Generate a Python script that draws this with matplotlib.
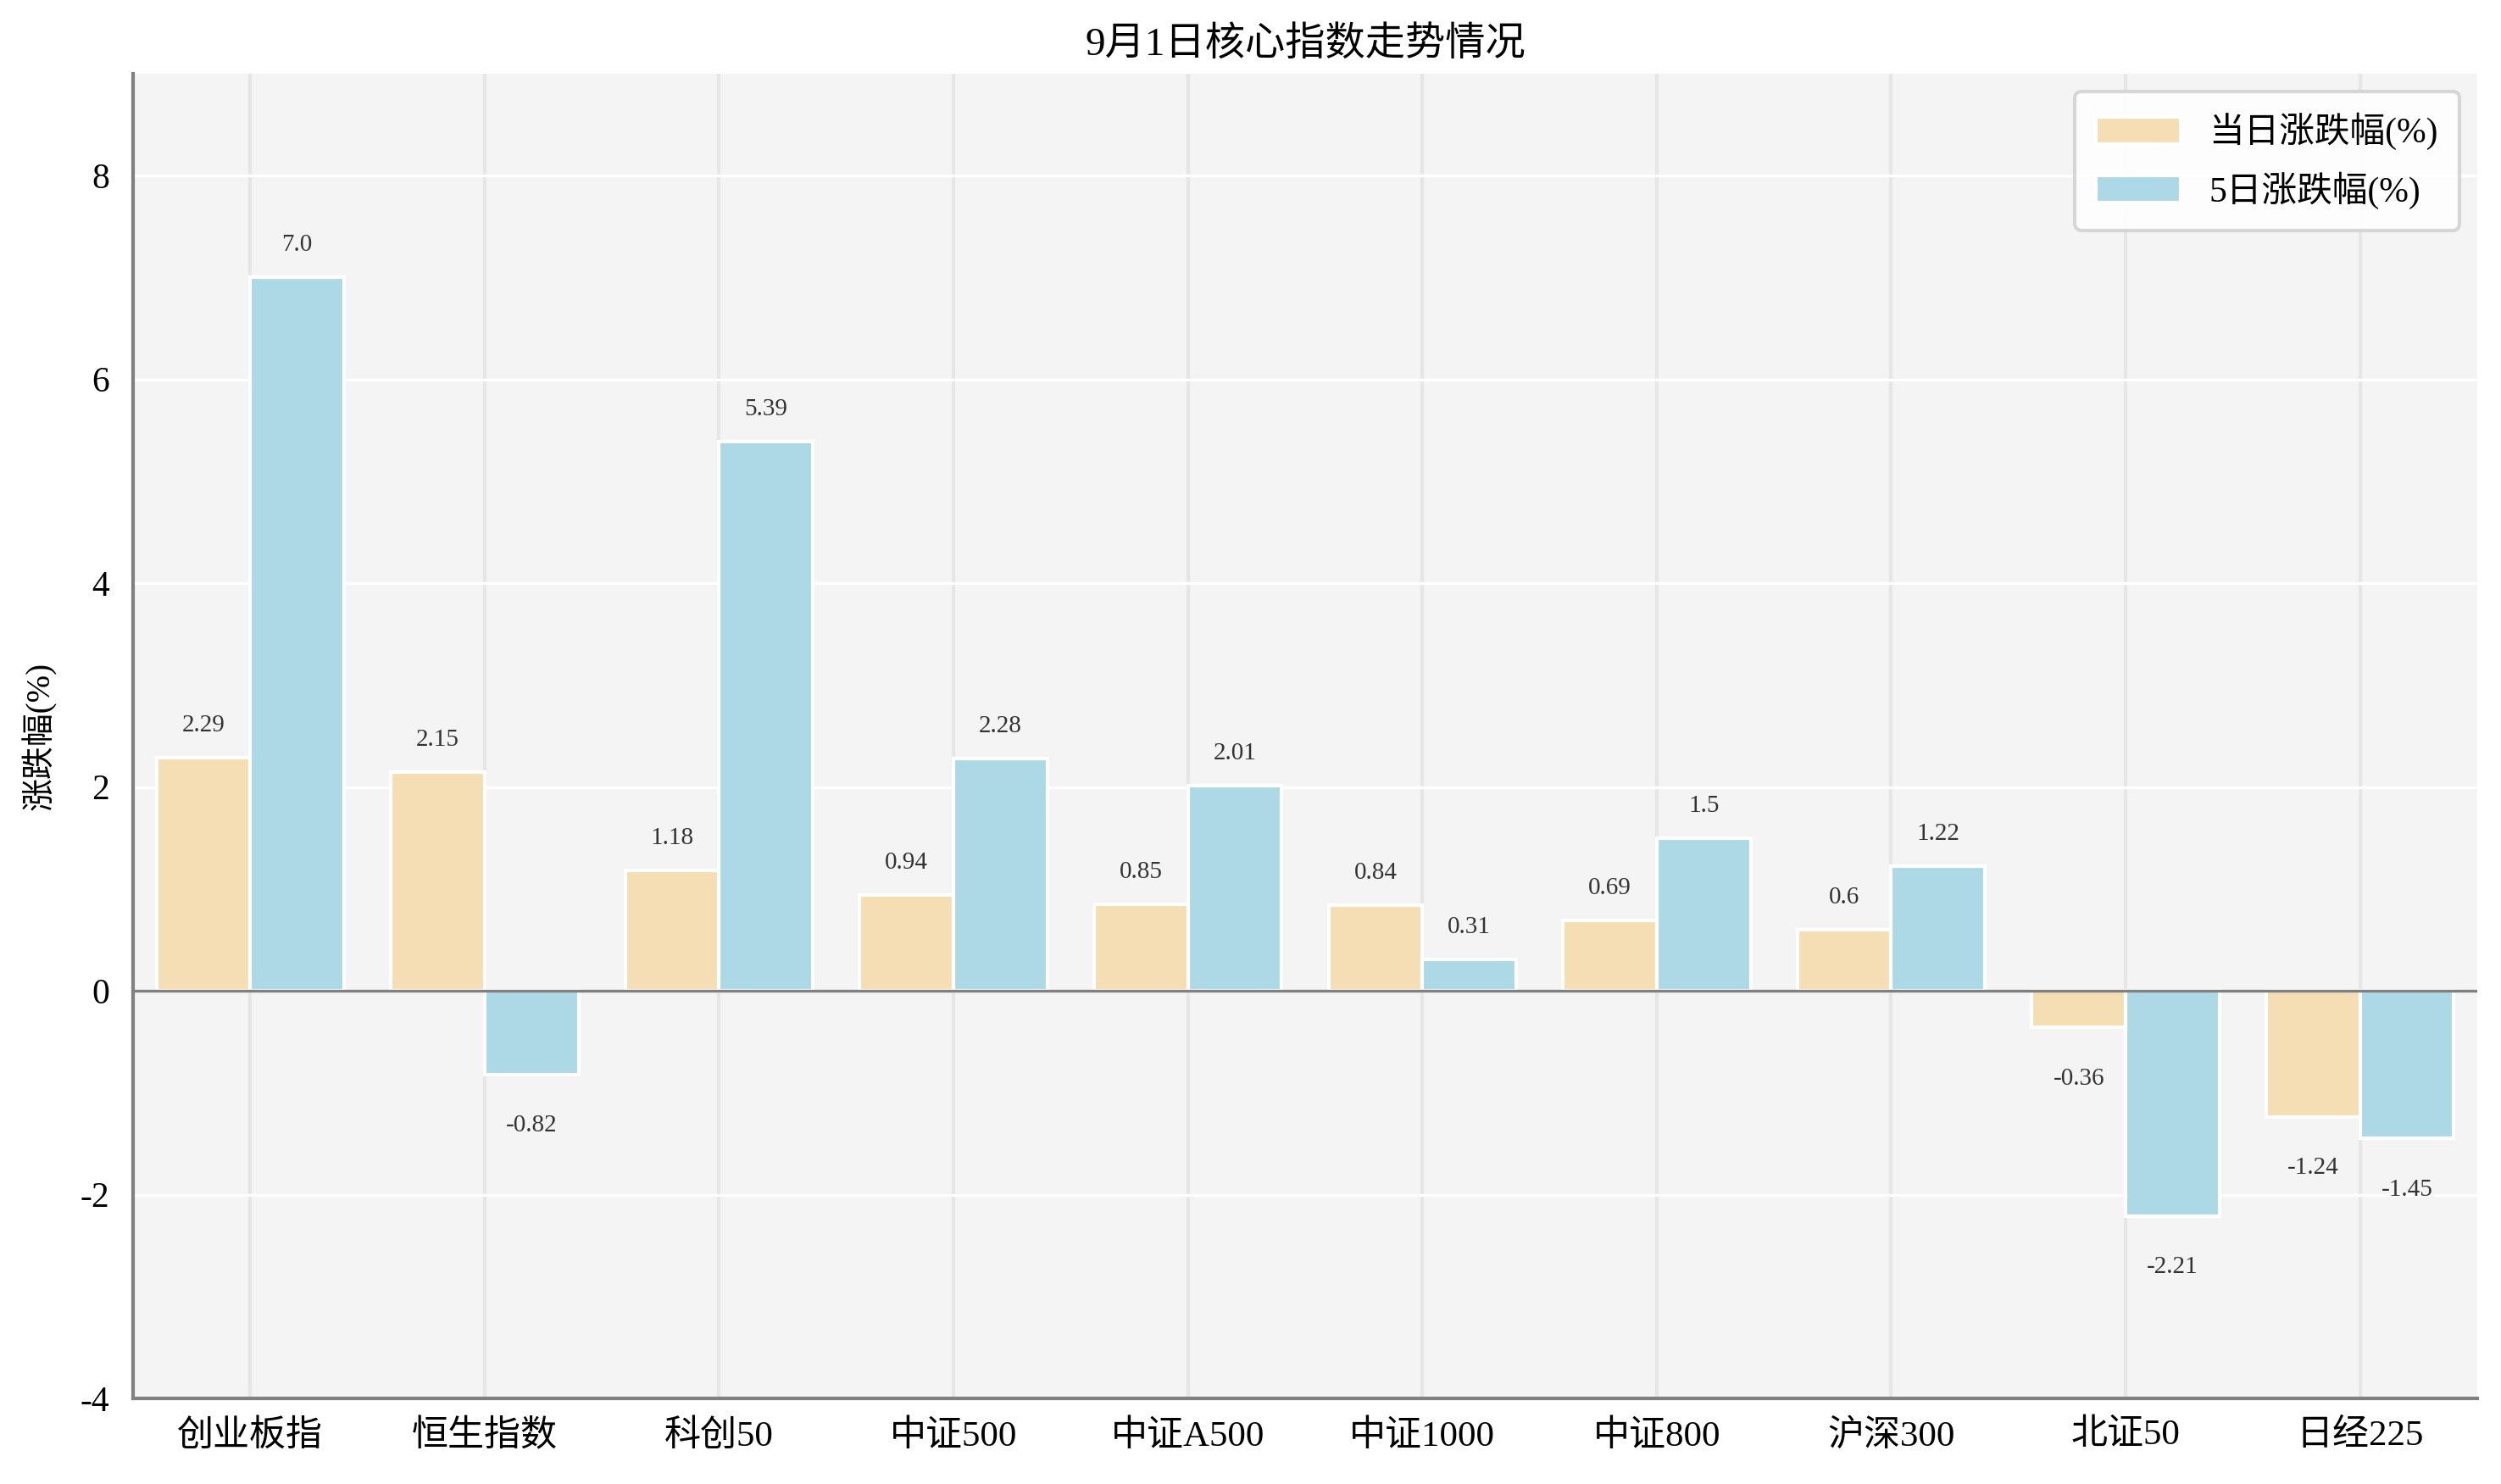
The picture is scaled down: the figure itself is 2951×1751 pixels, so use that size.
import numpy as np
import matplotlib
matplotlib.use("Agg")
import matplotlib.pyplot as plt

plt.rcParams['font.family'] = ['Liberation Serif', 'Noto Sans CJK SC', 'DejaVu Sans']
plt.rcParams['axes.unicode_minus'] = False

categories = ["创业板指", "恒生指数", "科创50", "中证500", "中证A500",
              "中证1000", "中证800", "沪深300", "北证50", "日经225"]
day_change = [2.29, 2.15, 1.18, 0.94, 0.85, 0.84, 0.69, 0.6, -0.36, -1.24]
five_day_change = [7.0, -0.82, 5.39, 2.28, 2.01, 0.31, 1.5, 1.22, -2.21, -1.45]
series_names = ["当日涨跌幅(%)", "5日涨跌幅(%)"]
colors = ["#F5DEB3", "#ADD8E6"]

fig = plt.figure(figsize=(14.755, 8.755), dpi=200)
ax = fig.add_axes([0.0532, 0.0577, 0.9373, 0.8926])
ax.set_facecolor("#f4f4f4")

x = np.arange(len(categories))
w = 0.4

for i, (vals, name, col) in enumerate(zip([day_change, five_day_change], series_names, colors)):
    pos = x + (i - 0.5) * w
    bars = ax.bar(pos, vals, w, color=col, edgecolor="white", linewidth=1.5,
                  label=name, zorder=3)
    for b, v in zip(bars, vals):
        cx = b.get_x() + b.get_width() / 2
        if v >= 0:
            ax.annotate(str(v), (cx, v), xytext=(0, 9), textcoords="offset points",
                        ha="center", va="bottom", fontsize=10.5, color="#333333")
        else:
            ax.annotate(str(v), (cx, v), xytext=(0, -17), textcoords="offset points",
                        ha="center", va="top", fontsize=10.5, color="#333333")

ax.axhline(0, color="#808080", linewidth=1.2, zorder=4)

ax.set_xlim(-0.5, 9.5)
ax.set_ylim(-4, 9)
ax.set_yticks([-4, -2, 0, 2, 4, 6, 8])
ax.set_xticks(x)
ax.set_xticklabels(categories, fontsize=15.5)
ax.tick_params(axis="y", labelsize=15, length=0, pad=10)
ax.tick_params(axis="x", length=0, pad=9)

ax.grid(axis="y", color="white", linewidth=1.2, zorder=0)
ax.grid(axis="x", color="#e6e6e6", linewidth=1.5, zorder=0)
ax.set_axisbelow(True)

for s in ["top", "right"]:
    ax.spines[s].set_visible(False)
for s in ["left", "bottom"]:
    ax.spines[s].set_color("#808080")
    ax.spines[s].set_linewidth(1.5)

ax.set_ylabel("涨跌幅(%)", fontsize=14, labelpad=10)
ax.set_title("9月1日核心指数走势情况", fontsize=17, pad=8)

leg = ax.legend(loc="upper right", fontsize=15, frameon=True, fancybox=True,
                edgecolor="#d3d3d3", facecolor="white", framealpha=0.9,
                handlelength=2.4, handleheight=0.8, borderpad=0.6, labelspacing=0.6)
leg.get_frame().set_linewidth(1.5)

fig.savefig("out.png", dpi=200)
